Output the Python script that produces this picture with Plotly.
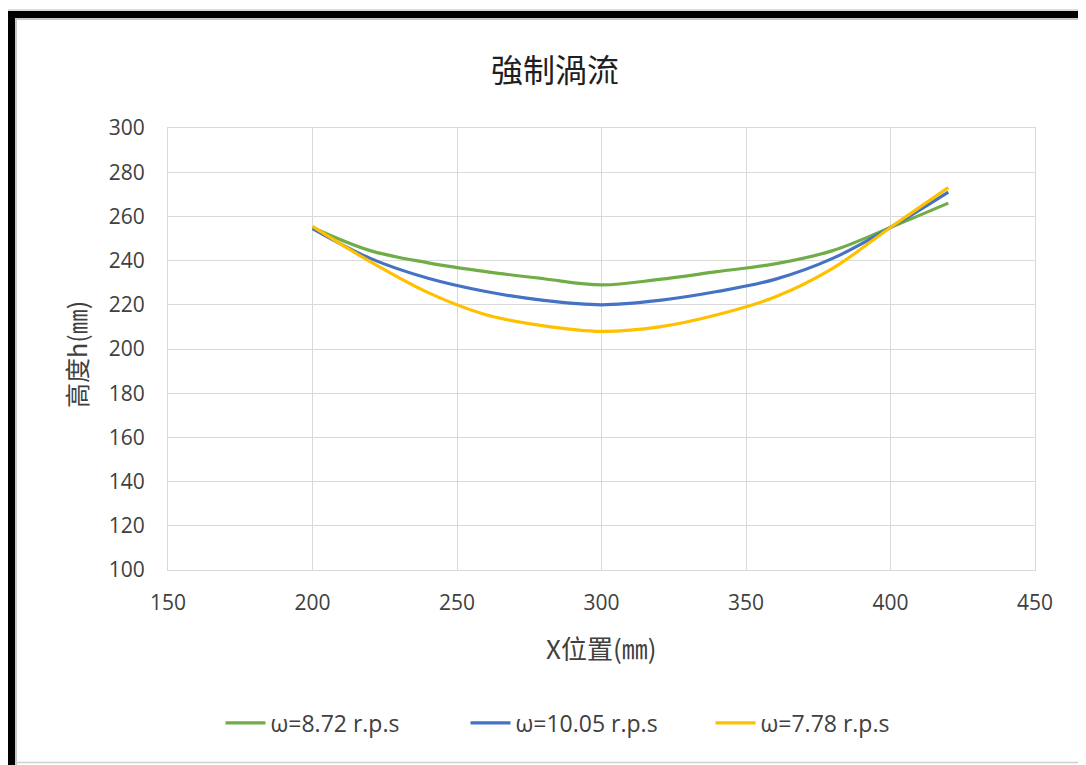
import plotly.graph_objects as go

# ---- data ----
x_pos = [200, 220, 240, 260, 280, 300, 320, 340, 360, 380, 400, 420]
h_872 = [255, 244.5, 239, 235, 231.8, 229, 231.5, 235, 238.5, 244.5, 255, 266]
h_1005 = [254.5, 241, 232, 226, 222, 220, 222, 226, 231.5, 241, 255, 271]
h_778 = [255.5, 239.5, 225.5, 215.5, 210.5, 208, 210, 215.5, 223.5, 236.5, 255, 273]

series_names = ["ω=8.72 r.p.s", "ω=10.05 r.p.s", "ω=7.78 r.p.s"]
series_colors = ["#70AD47", "#4472C4", "#FFC000"]
series_values = [h_872, h_1005, h_778]

title_text = "強制渦流"
x_title = "X位置(㎜)"
y_title = "高度h(㎜)"

# page is offset by 8px (body margin), so work in page pixels and subtract it
OFF = 8
W, H = 1086 - OFF, 765 - OFF
L, R, T, B = 168 - OFF, 1035 - OFF, 128 - OFF, 570 - OFF


def px(p):
    return (p - OFF - L) / (R - L)


def py(p):
    return (B - (p - OFF)) / (B - T)


fig = go.Figure()
for name, color, vals in zip(series_names, series_colors, series_values):
    fig.add_trace(go.Scatter(
        x=x_pos, y=vals, name=name, mode="lines",
        line=dict(color=color, width=3.2, shape="spline", smoothing=1.0),
    ))

tick_font = dict(family="Open Sans, Noto Sans, sans-serif", size=21, color="#404040")
grid = "#D9D9D9"

fig.update_xaxes(
    range=[150, 450], dtick=50, tick0=150, showgrid=True, gridcolor=grid, gridwidth=1,
    zeroline=False, showline=True, linecolor=grid, linewidth=1, mirror=True,
    tickfont=tick_font, ticks="", ticklabelstandoff=14,
)
fig.update_yaxes(
    range=[100, 300], dtick=20, tick0=100, showgrid=True, gridcolor=grid, gridwidth=1,
    zeroline=False, showline=True, linecolor=grid, linewidth=1, mirror=True,
    tickfont=tick_font, ticks="", ticklabelstandoff=18,
)

cjk = "Noto Sans CJK TC, Noto Sans CJK JP, sans-serif"
annotations = [
    dict(text=title_text, x=px(555), y=py(68), xref="paper", yref="paper",
         showarrow=False, font=dict(family=cjk, size=32, color="#202020"),
         xanchor="center", yanchor="middle"),
    dict(text=x_title, x=px(601), y=py(647), xref="paper", yref="paper",
         showarrow=False, font=dict(family=cjk, size=26, color="#404040"),
         xanchor="center", yanchor="middle"),
    dict(text=y_title, x=px(76), y=py(355), xref="paper", yref="paper",
         showarrow=False, textangle=-90, font=dict(family=cjk, size=25, color="#404040"),
         xanchor="center", yanchor="middle"),
]

shapes = [
    # top black frame band
    dict(type="rect", xref="paper", yref="paper", x0=px(8), x1=px(1100), y0=py(11), y1=py(18),
         fillcolor="#000000", line=dict(width=0), layer="above"),
    # left black frame band
    dict(type="rect", xref="paper", yref="paper", x0=px(8), x1=px(15), y0=py(11), y1=py(780),
         fillcolor="#000000", line=dict(width=0), layer="above"),
    # soft grey shadows
    dict(type="rect", xref="paper", yref="paper", x0=px(15), x1=px(1100), y0=py(18), y1=py(20),
         fillcolor="#C8C8C8", line=dict(width=0), layer="above"),
    dict(type="rect", xref="paper", yref="paper", x0=px(15), x1=px(17), y0=py(18), y1=py(780),
         fillcolor="#C8C8C8", line=dict(width=0), layer="above"),
    dict(type="rect", xref="paper", yref="paper", x0=px(8), x1=px(1100), y0=py(9), y1=py(11),
         fillcolor="#DDDDDD", line=dict(width=0), layer="above"),
    # bottom thin grey line
    dict(type="line", xref="paper", yref="paper", x0=px(15), x1=px(1100), y0=py(762.5), y1=py(762.5),
         line=dict(color="#D0D0D0", width=1.5), layer="above"),
]

fig.update_layout(
    width=W, height=H,
    margin=dict(l=L, r=W - R, t=T, b=H - B, pad=0),
    paper_bgcolor="white", plot_bgcolor="white",
    showlegend=True,
    legend=dict(orientation="h", x=px(588), y=py(723), xanchor="center", yanchor="middle",
                font=dict(family="Open Sans, Noto Sans, sans-serif", size=23, color="#404040"),
                entrywidth=190, entrywidthmode="pixels",
                itemwidth=40, tracegroupgap=0, bgcolor="rgba(0,0,0,0)"),
    annotations=annotations,
    shapes=shapes,
)

fig.write_html("out.html")
